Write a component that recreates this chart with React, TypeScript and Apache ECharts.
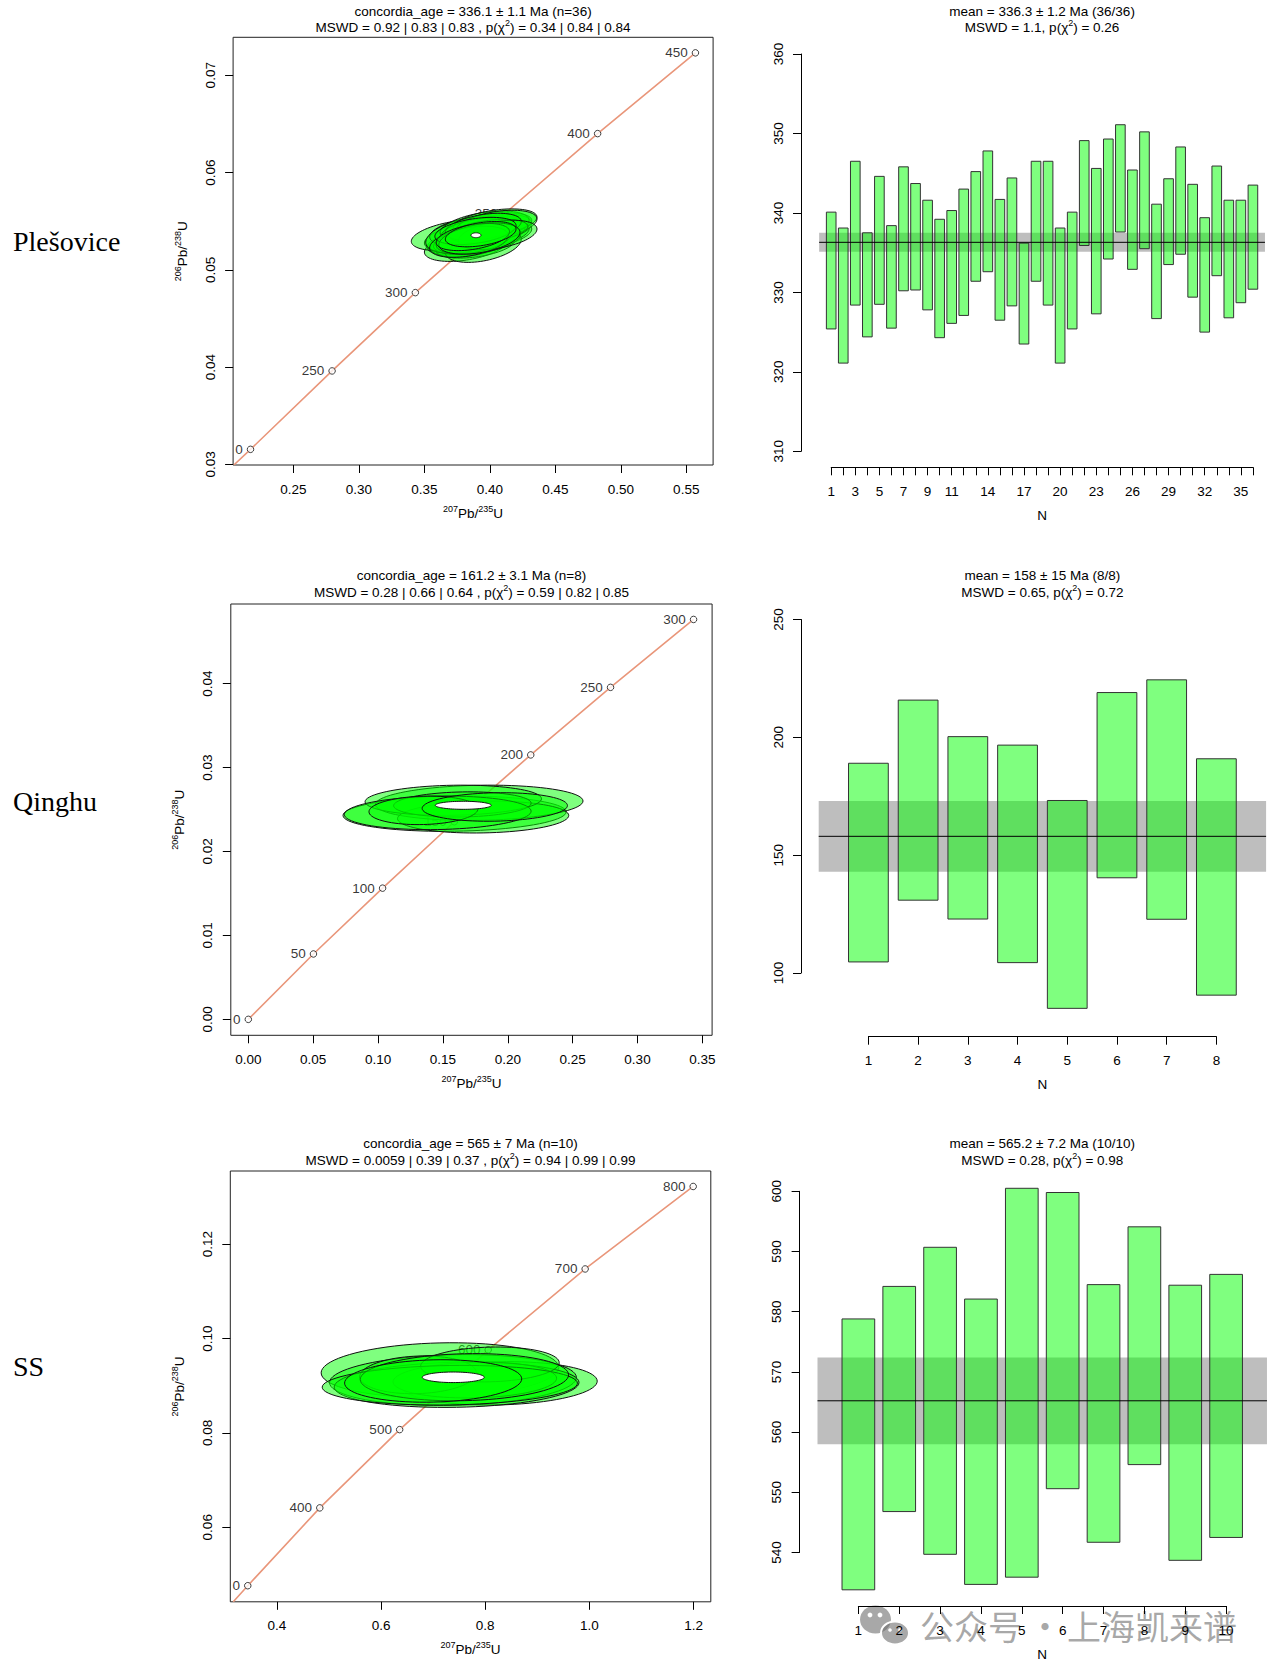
import React, { useEffect, useRef } from "react";
import * as echarts from "echarts";

// ---------- Plešovice ----------
const pleXTicks = [0.25, 0.3, 0.35, 0.4, 0.45, 0.5, 0.55];
const pleYTicks = [0.03, 0.04, 0.05, 0.06, 0.07];
const pleAgeText = ["0", "250", "300", "350", "400", "450"]; // first label ("200") is cut by the frame
const pleAgeX = [0.2172, 0.2795, 0.3431, 0.4116, 0.4823, 0.557];
const pleAgeY = [0.03154, 0.0396, 0.04765, 0.0558, 0.064, 0.0723];
const pleLineStart = [0.2045, 0.02993];
const pleEllX = [0.386, 0.382, 0.394, 0.384, 0.398, 0.379, 0.392, 0.401, 0.388, 0.386, 0.393, 0.381, 0.396, 0.402, 0.391, 0.375, 0.389, 0.385, 0.397, 0.395, 0.39, 0.401, 0.383, 0.396, 0.404, 0.391, 0.405, 0.388, 0.399, 0.395, 0.406, 0.384, 0.389, 0.392, 0.387, 0.393];
const pleEllY = [0.05297, 0.05246, 0.05374, 0.05268, 0.05359, 0.05284, 0.05383, 0.05367, 0.05329, 0.05281, 0.05305, 0.05335, 0.05388, 0.05419, 0.05319, 0.05356, 0.0525, 0.05398, 0.05374, 0.05246, 0.05297, 0.05456, 0.05358, 0.05444, 0.05486, 0.05402, 0.05462, 0.05316, 0.05398, 0.05441, 0.05359, 0.05288, 0.05399, 0.05321, 0.05337, 0.05366];
const pleEllSx = [0.03, 0.032, 0.033, 0.028, 0.034, 0.027, 0.031, 0.029, 0.03, 0.031, 0.028, 0.031, 0.029, 0.03, 0.032, 0.035, 0.03, 0.031, 0.03, 0.029, 0.033, 0.031, 0.032, 0.034, 0.032, 0.028, 0.031, 0.029, 0.03, 0.029, 0.03, 0.03, 0.031, 0.031, 0.028, 0.027];
const pleEllSy = [0.0014, 0.0016, 0.0017, 0.0013, 0.0015, 0.0013, 0.0016, 0.0014, 0.0014, 0.0015, 0.0014, 0.0015, 0.0014, 0.0015, 0.0015, 0.0016, 0.0013, 0.0015, 0.0018, 0.0017, 0.0014, 0.0013, 0.0019, 0.0016, 0.0014, 0.0013, 0.0015, 0.0015, 0.0012, 0.0014, 0.0015, 0.0016, 0.0014, 0.0016, 0.0014, 0.0013];
const pleRho = 0.4;
const pleConcEll = [0.3894, 0.05355, 0.0038, 0.00025];
const pleLo = [325.4, 321.1, 328.4, 324.4, 328.5, 325.5, 330.2, 330.3, 327.8, 324.3, 326.1, 327.1, 331.4, 332.6, 326.5, 328.3, 323.5, 331.4, 328.4, 321.1, 325.4, 335.9, 327.3, 334.2, 337.6, 332.9, 335.5, 326.7, 333.5, 334.8, 329.4, 325.0, 332.1, 326.8, 328.7, 330.4];
const pleHi = [340.1, 338.1, 346.5, 337.5, 344.6, 338.4, 345.8, 343.7, 341.6, 339.2, 340.3, 343.0, 345.2, 347.8, 341.7, 344.4, 336.2, 346.5, 346.5, 338.1, 340.1, 349.1, 345.6, 349.3, 351.1, 345.4, 350.2, 341.1, 344.3, 348.3, 343.6, 339.4, 345.9, 341.6, 341.6, 343.5];
const pleMean = [336.3, 335.1, 337.5];
const pleNLabels = [1, 3, 5, 7, 9, 11, 14, 17, 20, 23, 26, 29, 32, 35];

// ---------- Qinghu ----------
const qinXTicks = [0, 0.05, 0.1, 0.15, 0.2, 0.25, 0.3, 0.35];
const qinYTicks = [0, 0.01, 0.02, 0.03, 0.04];
const qinAgeText = ["0", "50", "100", "150", "200", "250", "300"];
const qinAgeX = [0, 0.0502, 0.1035, 0.1588, 0.2177, 0.2792, 0.3432];
const qinAgeY = [0, 0.00779, 0.01563, 0.02354, 0.0315, 0.03955, 0.04764];
const qinEllX = [0.159, 0.178, 0.181, 0.158, 0.165, 0.146, 0.135, 0.19];
const qinEllY = [0.0245, 0.0258, 0.0241, 0.0261, 0.0256, 0.0246, 0.0249, 0.0253];
const qinEllSx = [0.086, 0.08, 0.066, 0.068, 0.053, 0.072, 0.042, 0.056];
const qinEllSy = [0.0021, 0.0021, 0.0019, 0.0018, 0.0015, 0.002, 0.0017, 0.0017];
const qinRho = 0.1;
const qinConcEll = [0.1657, 0.0255, 0.0216, 0.00048];
const qinLo = [104.7, 130.9, 122.9, 104.4, 85.0, 140.4, 122.8, 90.6];
const qinHi = [189.0, 215.8, 200.3, 196.7, 173.2, 219.0, 224.4, 190.9];
const qinMean = [158, 143, 173];
const qinNLabels = [1, 2, 3, 4, 5, 6, 7, 8];

// ---------- SS ----------
const ssXTicks = [0.4, 0.6, 0.8, 1.0, 1.2];
const ssYTicks = [0.06, 0.08, 0.1, 0.12];
const ssAgeText = ["0", "400", "500", "600", "700", "800"]; // first label ("300") is cut by the frame
const ssAgeX = [0.3441, 0.4824, 0.6357, 0.8057, 0.9918, 1.1992];
const ssAgeY = [0.04761, 0.0641, 0.08069, 0.0976, 0.11474, 0.13222];
const ssLineStart = [0.3163, 0.0442];
const ssEllX = [0.713, 0.826, 0.738, 0.745, 0.78, 0.671, 0.809, 0.732, 0.76, 0.7];
const ssEllY = [0.0933, 0.0905, 0.0912, 0.0902, 0.0912, 0.0923, 0.0945, 0.0901, 0.0918, 0.091];
const ssEllSx = [0.228, 0.189, 0.237, 0.235, 0.157, 0.112, 0.133, 0.245, 0.2, 0.17];
const ssEllSy = [0.0058, 0.0046, 0.0054, 0.0048, 0.0038, 0.004, 0.0037, 0.0042, 0.005, 0.0045];
const ssRho = 0.1;
const ssConcEll = [0.7386, 0.09178, 0.0595, 0.00112];
const ssLo = [533.8, 546.8, 539.7, 534.7, 535.9, 550.6, 541.7, 554.6, 538.7, 542.5];
const ssHi = [578.8, 584.2, 590.7, 582.1, 600.5, 599.8, 584.5, 594.1, 584.4, 586.2];
const ssMean = [565.2, 558.0, 572.4];
const ssNLabels = [1, 2, 3, 4, 5, 6, 7, 8, 9, 10];

const FONT = "'Liberation Sans', Arial, Helvetica, sans-serif";
const FS = 13.5;
const ELL_FILL = "rgba(0,255,0,0.5)";

const rich = {
  n: { fontSize: FS, fontFamily: FONT, fill: "#000", lineHeight: 18, verticalAlign: "middle" },
  s: { fontSize: 9, fontFamily: FONT, fill: "#000", lineHeight: 11, verticalAlign: "top" },
};

const chiLine = (pre: string, post: string) => `{n|${pre}χ}{s|2}{n|${post}}`;

const zip = (a: number[], b: number[]) => a.map((v, i) => [v, b[i]]);

const ellipseItem = (fill: string) => (_p: any, api: any) => {
  const cx = api.value(0), cy = api.value(1), sx = api.value(2), sy = api.value(3), r = api.value(4);
  const k = Math.sqrt(1 - r * r);
  const pts: number[][] = [];
  for (let i = 0; i < 80; i++) {
    const t = (i / 80) * Math.PI * 2;
    pts.push(api.coord([cx + sx * Math.cos(t), cy + sy * (r * Math.cos(t) + k * Math.sin(t))]));
  }
  return { type: "polygon", shape: { points: pts }, style: { fill, stroke: "#111", lineWidth: 1 } };
};

type Conc = {
  box: number[]; xr: number[]; yr: number[];
  xTicks: number[]; yTicks: number[]; xDec: number; yDec: number;
  line: number[][]; ageX: number[]; ageY: number[]; ageText: string[];
  ell: number[][]; concEll: number[];
  t1: string; t2: string; ty: number[]; label: string; labelY: number;
};

type WM = {
  lo: number[]; hi: number[]; mean: number[]; nLabels: number[];
  x0: number; step: number; yTop: number; h: number;
  yMin: number; yMax: number; yStep: number; axisX: number; nY: number;
  t1: string; t2: string; ty: number[];
};

const concPanels: Conc[] = [
  {
    box: [233.1, 37.3, 480, 427.7], xr: [0.2039, 0.5705], yr: [0.02993, 0.0739],
    xTicks: pleXTicks, yTicks: pleYTicks, xDec: 2, yDec: 2,
    line: [pleLineStart, ...zip(pleAgeX, pleAgeY)], ageX: pleAgeX, ageY: pleAgeY, ageText: pleAgeText,
    ell: pleEllX.map((x, i) => [x, pleEllY[i], pleEllSx[i], pleEllSy[i], pleRho]), concEll: pleConcEll,
    t1: "concordia_age = 336.1 ± 1.1 Ma (n=36)",
    t2: chiLine("MSWD = 0.92 | 0.83 | 0.83 , p(", ") = 0.34 | 0.84 | 0.84"),
    ty: [11, 27], label: "Plešovice", labelY: 241,
  },
  {
    box: [230.8, 604, 481.3, 431.3], xr: [-0.0135, 0.3575], yr: [-0.0019, 0.04948],
    xTicks: qinXTicks, yTicks: qinYTicks, xDec: 2, yDec: 2,
    line: zip(qinAgeX, qinAgeY), ageX: qinAgeX, ageY: qinAgeY, ageText: qinAgeText,
    ell: qinEllX.map((x, i) => [x, qinEllY[i], qinEllSx[i], qinEllSy[i], qinRho]), concEll: qinConcEll,
    t1: "concordia_age = 161.2 ± 3.1 Ma (n=8)",
    t2: chiLine("MSWD = 0.28 | 0.66 | 0.64 , p(", ") = 0.59 | 0.82 | 0.85"),
    ty: [575.6, 592.2], label: "Qinghu", labelY: 801,
  },
  {
    box: [230.3, 1171, 480.5, 430.8], xr: [0.3106, 1.233], yr: [0.0442, 0.1355],
    xTicks: ssXTicks, yTicks: ssYTicks, xDec: 1, yDec: 2,
    line: [ssLineStart, ...zip(ssAgeX, ssAgeY)], ageX: ssAgeX, ageY: ssAgeY, ageText: ssAgeText,
    ell: ssEllX.map((x, i) => [x, ssEllY[i], ssEllSx[i], ssEllSy[i], ssRho]), concEll: ssConcEll,
    t1: "concordia_age = 565 ± 7 Ma (n=10)",
    t2: chiLine("MSWD = 0.0059 | 0.39 | 0.37 , p(", ") = 0.94 | 0.99 | 0.99"),
    ty: [1143.6, 1160.6], label: "SS", labelY: 1366,
  },
];

const wmPanels: WM[] = [
  {
    lo: pleLo, hi: pleHi, mean: pleMean, nLabels: pleNLabels,
    x0: 819.15, step: 12.049, yTop: 54.0, h: 397.3, yMin: 310, yMax: 360, yStep: 10, axisX: 801, nY: 467.3,
    t1: "mean = 336.3 ± 1.2 Ma (36/36)", t2: chiLine("MSWD = 1.1, p(", ") = 0.26"), ty: [11, 27],
  },
  {
    lo: qinLo, hi: qinHi, mean: qinMean, nLabels: qinNLabels,
    x0: 818.7, step: 49.71, yTop: 619.5, h: 353.5, yMin: 100, yMax: 250, yStep: 50, axisX: 801, nY: 1036.7,
    t1: "mean = 158 ± 15 Ma (8/8)", t2: chiLine("MSWD = 0.65, p(", ") = 0.72"), ty: [575.6, 592.2],
  },
  {
    lo: ssLo, hi: ssHi, mean: ssMean, nLabels: ssNLabels,
    x0: 817.5, step: 40.86, yTop: 1191.3, h: 361.2, yMin: 540, yMax: 600, yStep: 10, axisX: 799.6, nY: 1606,
    t1: "mean = 565.2 ± 7.2 Ma (10/10)", t2: chiLine("MSWD = 0.28, p(", ") = 0.98"), ty: [1143.6, 1160.6],
  },
];

const labelStyle = { fontSize: FS, color: "#000", fontFamily: FONT };
const black = { color: "#000", width: 1 };

function buildOption() {
  const grid: any[] = [];
  const xAxis: any[] = [];
  const yAxis: any[] = [];
  const series: any[] = [];
  const graphic: any[] = [];

  const titleText = (x: number, ty: number[], t1: string, t2: string) => {
    graphic.push({ type: "text", x, y: ty[0], silent: true, style: { text: t1, fontSize: FS, fontFamily: FONT, fill: "#000", align: "center", verticalAlign: "middle" } });
    graphic.push({ type: "text", x, y: ty[1], silent: true, style: { text: t2, rich, align: "center", verticalAlign: "middle" } });
  };

  concPanels.forEach((p) => {
    const gi = grid.length;
    const [left, top, width, height] = p.box;
    grid.push({ left, top, width, height, show: true, borderColor: "#222", borderWidth: 1, backgroundColor: "transparent" });
    xAxis.push({
      gridIndex: gi, type: "value", min: p.xr[0], max: p.xr[1],
      axisLine: { show: false, onZero: false }, splitLine: { show: false },
      axisTick: { show: true, length: 8, customValues: p.xTicks, lineStyle: black },
      axisLabel: { ...labelStyle, margin: 17, customValues: p.xTicks, formatter: (v: number) => v.toFixed(p.xDec) },
    });
    yAxis.push({
      gridIndex: gi, type: "value", min: p.yr[0], max: p.yr[1],
      axisLine: { show: false, onZero: false }, splitLine: { show: false },
      axisTick: { show: true, length: 8, customValues: p.yTicks, lineStyle: black },
      axisLabel: { ...labelStyle, margin: 16, rotate: 90, customValues: p.yTicks, formatter: (v: number) => v.toFixed(p.yDec) },
    });
    series.push({
      type: "line", xAxisIndex: gi, yAxisIndex: gi, data: p.line, symbol: "none", silent: true, z: 1, clip: true,
      lineStyle: { color: "#E9967A", width: 1.6 },
    });
    series.push({
      type: "scatter", xAxisIndex: gi, yAxisIndex: gi, data: zip(p.ageX, p.ageY), silent: true, z: 1,
      symbol: "circle", symbolSize: 6.5,
      itemStyle: { color: "#fff", borderColor: "#111", borderWidth: 1 },
      label: { show: true, position: "left", distance: 4, ...labelStyle, formatter: (q: any) => p.ageText[q.dataIndex] },
    });
    series.push({
      type: "custom", xAxisIndex: gi, yAxisIndex: gi, data: p.ell, silent: true, z: 3, clip: true,
      encode: { x: 0, y: 1 }, renderItem: ellipseItem(ELL_FILL),
    });
    series.push({
      type: "custom", xAxisIndex: gi, yAxisIndex: gi, data: [[...p.concEll, 0]], silent: true, z: 4,
      encode: { x: 0, y: 1 }, renderItem: ellipseItem("#fff"),
    });

    const cx = left + width / 2;
    titleText(cx, p.ty, p.t1, p.t2);
    graphic.push({ type: "text", x: cx, y: top + height + 48, silent: true, style: { text: "{s|207}{n|Pb/}{s|235}{n|U}", rich, align: "center", verticalAlign: "middle" } });
    graphic.push({ type: "text", x: left - 51, y: top + height / 2, rotation: Math.PI / 2, silent: true, style: { text: "{s|206}{n|Pb/}{s|238}{n|U}", rich, align: "center", verticalAlign: "middle" } });
    graphic.push({ type: "text", x: 13, y: p.labelY, silent: true, style: { text: p.label, fontSize: 28, fontFamily: "'Liberation Serif', 'Times New Roman', serif", fill: "#000", align: "left", verticalAlign: "middle" } });
  });

  wmPanels.forEach((p) => {
    const n = p.lo.length;
    const gi = grid.length;
    grid.push({ left: p.x0, top: p.yTop, width: (n + 1) * p.step, height: p.h });
    xAxis.push({ gridIndex: gi, type: "value", min: 0, max: n + 1, show: false, axisLine: { onZero: false } });
    yAxis.push({
      gridIndex: gi, type: "value", min: p.yMin, max: p.yMax, interval: p.yStep, offset: p.x0 - p.axisX,
      axisLine: { show: true, onZero: false, lineStyle: black }, splitLine: { show: false },
      axisTick: { show: true, length: 8, lineStyle: black },
      axisLabel: { ...labelStyle, rotate: 90, margin: 16 },
    });
    series.push({
      type: "custom", xAxisIndex: gi, yAxisIndex: gi, silent: true, z: 1, clip: false,
      data: [[0, p.mean[1], n + 1, p.mean[2]]], encode: { x: [0, 2], y: [1, 3] },
      renderItem: (_q: any, api: any) => {
        const a = api.coord([api.value(0), api.value(3)]);
        const b = api.coord([api.value(2), api.value(1)]);
        return { type: "rect", shape: { x: a[0], y: a[1], width: b[0] - a[0], height: b[1] - a[1] }, style: { fill: "#BEBEBE" } };
      },
    });
    series.push({
      type: "custom", xAxisIndex: gi, yAxisIndex: gi, silent: true, z: 2, clip: false,
      data: p.lo.map((lo, i) => [i + 1, lo, p.hi[i]]), encode: { x: 0, y: [1, 2] },
      renderItem: (_q: any, api: any) => {
        const a = api.coord([api.value(0) - 0.4, api.value(2)]);
        const b = api.coord([api.value(0) + 0.4, api.value(1)]);
        return { type: "rect", shape: { x: a[0], y: a[1], width: b[0] - a[0], height: b[1] - a[1] }, style: { fill: ELL_FILL, stroke: "#333", lineWidth: 1 } };
      },
    });
    series.push({
      type: "custom", xAxisIndex: gi, yAxisIndex: gi, silent: true, z: 3, clip: false,
      data: [[0, p.mean[0], n + 1]], encode: { x: [0, 2], y: 1 },
      renderItem: (_q: any, api: any) => {
        const a = api.coord([api.value(0), api.value(1)]);
        const b = api.coord([api.value(2), api.value(1)]);
        return { type: "line", shape: { x1: a[0], y1: a[1], x2: b[0], y2: b[1] }, style: { stroke: "#000", lineWidth: 1 } };
      },
    });

    const gN = grid.length;
    grid.push({ left: p.x0 + p.step, top: p.nY - 1, width: (n - 1) * p.step, height: 1 });
    xAxis.push({
      gridIndex: gN, type: "value", min: 1, max: n, interval: 1, position: "bottom",
      axisLine: { show: true, onZero: false, lineStyle: black }, splitLine: { show: false },
      axisTick: { show: true, length: 8, lineStyle: black },
      axisLabel: { ...labelStyle, margin: 17, customValues: p.nLabels },
      name: "N", nameLocation: "middle", nameGap: 41, nameTextStyle: labelStyle,
    });
    yAxis.push({ gridIndex: gN, type: "value", show: false, min: 0, max: 1 });

    titleText(p.x0 + p.step * (n + 1) / 2, p.ty, p.t1, p.t2);
  });

  // watermark
  const wm = "rgba(110,110,110,0.6)";
  graphic.push({
    type: "group", z: 100, silent: true, children: [
      { type: "ellipse", shape: { cx: 875.5, cy: 1619.5, rx: 15.5, ry: 14 }, style: { fill: wm } },
      { type: "circle", shape: { cx: 870, cy: 1615, r: 2.4 }, style: { fill: "#fff" } },
      { type: "circle", shape: { cx: 880, cy: 1615, r: 2.4 }, style: { fill: "#fff" } },
      { type: "ellipse", shape: { cx: 895, cy: 1633, rx: 14, ry: 11.5 }, style: { fill: wm, stroke: "#fff", lineWidth: 2 } },
      { type: "circle", shape: { cx: 890, cy: 1630, r: 1.8 }, style: { fill: "#fff" } },
      { type: "circle", shape: { cx: 900, cy: 1630, r: 1.8 }, style: { fill: "#fff" } },
      { type: "text", x: 920, y: 1625, style: { text: "公众号", fontSize: 34, fontFamily: "'Noto Sans CJK SC'", fill: wm, align: "left", verticalAlign: "middle" } },
      { type: "text", x: 1045, y: 1625, style: { text: "·", fontSize: 34, fontFamily: "'Noto Sans CJK SC'", fill: wm, align: "center", verticalAlign: "middle" } },
      { type: "text", x: 1067, y: 1625, style: { text: "上海凯来谱", fontSize: 34, fontFamily: "'Noto Sans CJK SC'", fill: wm, align: "left", verticalAlign: "middle" } },
    ],
  });

  return { animation: false, backgroundColor: "#fff", grid, xAxis, yAxis, series, graphic: { elements: graphic } };
}

const App = () => {
  const chartRef = useRef<HTMLDivElement>(null);

  useEffect(() => {
    if (!chartRef.current) return;
    const chart = echarts.init(chartRef.current, null, { renderer: "svg" });
    chart.setOption(buildOption() as any);
    return () => {
      chart.dispose();
    };
  }, []);

  return <div ref={chartRef} style={{ position: "absolute", left: 0, top: 0, width: 1280, height: 1676 }} />;
};

export default App;
